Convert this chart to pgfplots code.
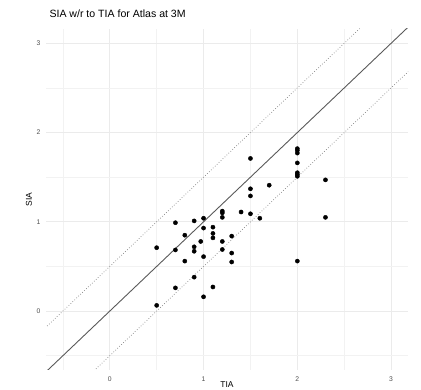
\documentclass[border=0pt]{standalone}
\usepackage{pgfplots}
\pgfplotsset{compat=1.18}
\usepackage{fontspec}
\setmainfont{Liberation Sans}
\definecolor{gridmaj}{HTML}{EBEBEB}
\definecolor{gridmin}{HTML}{F2F2F2}
\definecolor{tickc}{HTML}{4D4D4D}
\begin{document}
\begin{tikzpicture}
\useasboundingbox (0bp,0bp) rectangle (421bp,390bp);
\begin{axis}[
  at={(46bp,20bp)}, anchor=south west,
  scale only axis, width=362bp, height=341bp,
  xmin=-0.68, xmax=3.18, ymin=-0.66, ymax=3.16,
  xtick={0,1,2,3}, ytick={0,1,2,3},
  minor xtick={-0.5,0.5,1.5,2.5}, minor ytick={-0.5,0.5,1.5,2.5},
  grid=both,
  major grid style={draw=gridmaj, line width=0.9bp},
  minor grid style={draw=gridmin, line width=0.5bp},
  axis line style={draw=none},
  tick style={draw=none},
  /pgf/number format/assume math mode=true,
  tick label style={font=\fontsize{6.8}{7}\selectfont, text=tickc},
  xticklabel style={yshift=-3bp},
  yticklabel style={xshift=-2bp},
  title={SIA w/r to TIA for Atlas at 3M},
  title style={at={(axis description cs:0,1)}, anchor=base west, yshift=6bp, font=\fontsize{10.6}{12}\selectfont},
  xlabel={TIA}, ylabel={SIA},
  label style={font=\fontsize{8.5}{10}\selectfont},
  xlabel style={at={(axis description cs:0.5,-0.043)}, anchor=center},
  ylabel style={at={(axis description cs:-0.047,0.5)}, anchor=center},
  clip=true,
]
\addplot[draw=black!65, line width=0.9bp] coordinates {(-1,-1) (3.5,3.5)};
\addplot[draw=black!50, dotted, line width=0.7bp] coordinates {(-1,-0.5) (3.5,4)};
\addplot[draw=black!50, dotted, line width=0.7bp] coordinates {(-1,-1.5) (3.5,3)};
\addplot[only marks, mark=*, mark size=2.1bp, black] coordinates {
(1.5,1.71) (2.0,1.82) (2.0,1.80) (2.0,1.77) (2.0,1.66) (2.0,1.55) (2.0,1.53) (2.0,1.51)
(2.3,1.47) (2.3,1.05) (1.7,1.41) (1.5,1.37) (1.5,1.29) (1.4,1.11) (1.5,1.09) (1.6,1.04)
(1.2,1.12) (1.2,1.10) (1.2,1.05) (1.0,1.04) (0.9,1.01) (0.7,0.99) (1.0,0.93) (1.1,0.94)
(1.1,0.87) (1.1,0.82) (0.8,0.85) (1.3,0.84) (0.97,0.78) (1.2,0.78) (0.9,0.72) (0.9,0.67)
(0.5,0.71) (0.7,0.685) (1.2,0.69) (1.3,0.65) (1.0,0.61) (0.8,0.56) (1.3,0.55) (2.0,0.56)
(0.9,0.38) (0.7,0.26) (1.1,0.27) (1.0,0.16) (0.5,0.064)
};
\end{axis}
\end{tikzpicture}
\end{document}
